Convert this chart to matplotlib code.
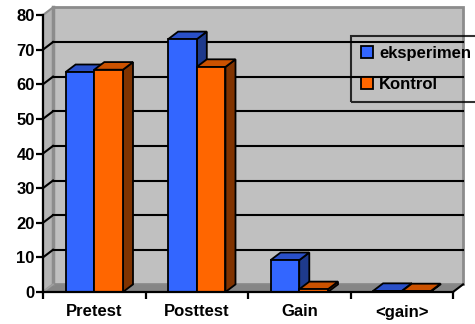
import numpy as np
import matplotlib.pyplot as plt
from matplotlib.patches import Polygon, Patch

plt.rcParams['font.family'] = ['Liberation Sans', 'DejaVu Sans']
plt.rcParams['font.weight'] = 'bold'

categories = ["Pretest", "Posttest", "Gain", "<gain>"]
eksperimen = [63.5, 73.0, 9.2, 0.3]
kontrol = [64.2, 65.0, 0.8, 0.2]
series_names = ["eksperimen", "Kontrol"]

# face colours: front, top, side
blue = ("#3366FF", "#2A50C8", "#1E3A8C")
orange = ("#FF6600", "#CC5200", "#803300")

fig = plt.figure(figsize=(4.75, 3.24), dpi=100)
ax = fig.add_axes([43 / 475, 32 / 324, 410 / 475, 277 / 324])
ax.set_xlim(0, len(categories))
ax.set_ylim(0, 80)

# depth of the 3D box in data units
ddx = 0.098
ddy = 2.2
ncat = len(categories)
ymax = 80

def poly(pts, fc, ec="none", lw=0, z=1):
    p = Polygon(pts, closed=True, facecolor=fc, edgecolor=ec, linewidth=lw,
                zorder=z, clip_on=False, joinstyle="miter")
    ax.add_patch(p)

# walls and floor
poly([(ddx, ddy), (ncat + ddx, ddy), (ncat + ddx, ymax + ddy), (ddx, ymax + ddy)],
     "#C0C0C0", "#8C8C8C", 2.0, 0.5)
poly([(0, 0), (ddx, ddy), (ddx, ymax + ddy), (0, ymax)], "#B4B4B4", "#8C8C8C", 1.5, 0.6)
poly([(0, 0), (ncat, 0), (ncat + ddx, ddy), (ddx, ddy)], "#868686", "none", 0, 0.7)
ax.plot([ddx, ddx], [ddy, ymax + ddy], color="#8C8C8C", lw=2.5, zorder=0.8, clip_on=False)

# gridlines on the back and left walls
for v in range(10, ymax, 10):
    ax.plot([ddx, ncat + ddx], [v + ddy, v + ddy], color="black", lw=1.5, zorder=0.9, clip_on=False)
    ax.plot([0, ddx], [v, v + ddy], color="black", lw=1.5, zorder=0.9, clip_on=False)
ax.plot([0, ddx], [0, ddy], color="#A0A0A0", lw=1.2, zorder=0.9, clip_on=False)
ax.plot([ncat, ncat + ddx], [0, ddy], color="black", lw=1.5, zorder=0.9, clip_on=False)

# bars
w = 0.28
x = np.arange(ncat) + 0.5
z = 2
for i in range(ncat):
    for vals, cols, left in ((eksperimen, blue, x[i] - w), (kontrol, orange, x[i])):
        v = vals[i]
        poly([(left + w, 0), (left + w, v), (left + w + ddx, v + ddy), (left + w + ddx, ddy)],
             cols[2], "black", 1.3, z)
        poly([(left, v), (left + w, v), (left + w + ddx, v + ddy), (left + ddx, v + ddy)],
             cols[1], "black", 1.3, z)
        ax.bar(left, v, width=w, align="edge", color=cols[0], edgecolor="black",
               linewidth=1.3, zorder=z, clip_on=False)
        z += 1

# axes
for s in ("top", "right"):
    ax.spines[s].set_visible(False)
for s in ("left", "bottom"):
    ax.spines[s].set_linewidth(1.6)
    ax.spines[s].set_zorder(20)
ax.set_yticks(range(0, ymax + 1, 10))
ax.tick_params(axis="y", direction="out", length=5, width=1.6, labelsize=12, pad=1)
ax.set_xticks(np.arange(ncat + 1), minor=True)
ax.set_xticks(x)
ax.set_xticklabels(categories)
ax.tick_params(axis="x", which="major", length=0, labelsize=12, pad=9)
ax.tick_params(axis="x", which="minor", direction="out", length=5, width=1.6)
for lab in ax.get_xticklabels() + ax.get_yticklabels():
    lab.set_fontweight("bold")

handles = [Patch(facecolor=blue[0], edgecolor="black", linewidth=1.3),
           Patch(facecolor=orange[0], edgecolor="black", linewidth=1.3)]
leg = fig.legend(handles, series_names, loc="upper left",
                 bbox_to_anchor=(351 / 475, 1 - 36 / 324), borderaxespad=0,
                 frameon=True, fancybox=False, edgecolor="black", facecolor="none",
                 handlelength=0.7, handleheight=0.7, handletextpad=0.4,
                 labelspacing=0.95, borderpad=0.6, prop={"size": 12, "weight": "bold"})
leg.get_frame().set_linewidth(1.5)

fig.savefig("out.png", dpi=100)
